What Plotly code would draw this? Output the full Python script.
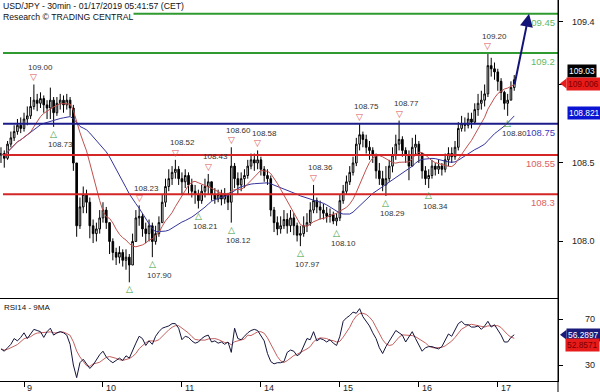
import plotly.graph_objects as go
import pandas as pd

# ---------------- data (hourly bars) ----------------
day_ticks = [7, 31, 55, 79, 103, 127, 151]
day_labels = ["9", "10", "11", "14", "15", "16", "17"]

first_open = 108.55
close = [108.56, 108.53, 108.62, 108.66, 108.70, 108.74, 108.72, 108.78, 108.80, 108.86,
         108.90, 108.88, 108.91, 108.87, 108.85, 108.90, 108.82, 108.88, 108.90, 108.87,
         108.90, 108.85, 108.50, 108.10, 108.22, 108.30, 108.25, 108.10, 108.05, 108.08,
         108.15, 108.20, 108.12, 108.00, 107.93, 107.90, 107.93, 107.88, 107.90, 107.85,
         108.00, 108.15, 108.16, 108.08, 108.05, 108.10, 108.00, 108.05, 108.12, 108.25,
         108.35, 108.40, 108.44, 108.46, 108.40, 108.38, 108.42, 108.36, 108.32, 108.30,
         108.26, 108.32, 108.35, 108.38, 108.30, 108.27, 108.30, 108.27, 108.30, 108.25,
         108.48, 108.40, 108.36, 108.40, 108.42, 108.48, 108.52, 108.50, 108.52, 108.46,
         108.42, 108.40, 108.20, 108.12, 108.08, 108.10, 108.14, 108.10, 108.15, 108.10,
         108.04, 108.05, 108.10, 108.12, 108.20, 108.26, 108.22, 108.20, 108.18, 108.16,
         108.17, 108.13, 108.15, 108.26, 108.32, 108.38, 108.44, 108.50, 108.62, 108.68,
         108.65, 108.60, 108.58, 108.55, 108.45, 108.40, 108.36, 108.40, 108.48, 108.55,
         108.62, 108.65, 108.58, 108.55, 108.48, 108.60, 108.62, 108.56, 108.45, 108.40,
         108.42, 108.48, 108.46, 108.48, 108.46, 108.52, 108.56, 108.54, 108.60, 108.72,
         108.75, 108.74, 108.78, 108.76, 108.84, 108.88, 108.90, 108.94, 109.12, 109.10,
         109.08, 109.02, 108.95, 108.88, 108.90, 108.98, 109.03]
high = [108.60, 108.58, 108.64, 108.70, 108.74, 108.78, 108.79, 108.82, 108.86, 108.92,
        109.00, 108.94, 108.95, 108.93, 108.90, 108.98, 108.92, 108.92, 108.94, 108.93,
        108.94, 108.92, 108.87, 108.50, 108.28, 108.35, 108.33, 108.28, 108.14, 108.12,
        108.20, 108.25, 108.22, 108.12, 108.02, 107.96, 107.97, 107.95, 107.95, 107.92,
        108.05, 108.20, 108.23, 108.18, 108.12, 108.14, 108.12, 108.10, 108.16, 108.30,
        108.40, 108.46, 108.48, 108.52, 108.48, 108.44, 108.46, 108.44, 108.40, 108.36,
        108.33, 108.36, 108.40, 108.43, 108.38, 108.34, 108.33, 108.33, 108.34, 108.31,
        108.60, 108.50, 108.44, 108.44, 108.46, 108.52, 108.56, 108.56, 108.58, 108.54,
        108.48, 108.46, 108.42, 108.22, 108.16, 108.16, 108.20, 108.18, 108.20, 108.18,
        108.12, 108.10, 108.16, 108.18, 108.25, 108.36, 108.28, 108.26, 108.24, 108.22,
        108.21, 108.19, 108.18, 108.30, 108.36, 108.42, 108.48, 108.54, 108.66, 108.75,
        108.70, 108.68, 108.64, 108.60, 108.56, 108.50, 108.45, 108.48, 108.52, 108.60,
        108.68, 108.77, 108.67, 108.60, 108.58, 108.66, 108.68, 108.64, 108.56, 108.48,
        108.46, 108.52, 108.50, 108.52, 108.50, 108.56, 108.60, 108.60, 108.64, 108.76,
        108.80, 108.79, 108.82, 108.82, 108.88, 108.94, 108.96, 109.00, 109.20, 109.17,
        109.14, 109.10, 109.04, 108.96, 108.94, 109.02, 109.06]
low = [108.50, 108.47, 108.52, 108.60, 108.64, 108.68, 108.69, 108.70, 108.74, 108.78,
       108.84, 108.83, 108.85, 108.82, 108.78, 108.78, 108.73, 108.80, 108.84, 108.82,
       108.84, 108.80, 108.45, 108.03, 108.08, 108.18, 108.18, 108.02, 107.99, 108.00,
       108.05, 108.12, 108.08, 107.92, 107.88, 107.85, 107.86, 107.84, 107.82, 107.74,
       107.85, 108.00, 108.10, 108.03, 107.99, 108.00, 107.90, 107.98, 108.03, 108.12,
       108.22, 108.32, 108.36, 108.40, 108.36, 108.30, 108.34, 108.30, 108.28, 108.24,
       108.21, 108.24, 108.28, 108.30, 108.26, 108.24, 108.25, 108.23, 108.24, 108.20,
       108.12, 108.34, 108.30, 108.32, 108.34, 108.40, 108.46, 108.45, 108.46, 108.42,
       108.38, 108.36, 108.16, 108.06, 108.04, 108.05, 108.08, 108.05, 108.06, 108.04,
       108.00, 107.97, 108.03, 108.06, 108.10, 108.18, 108.18, 108.14, 108.14, 108.12,
       108.12, 108.11, 108.10, 108.13, 108.24, 108.30, 108.36, 108.42, 108.48, 108.58,
       108.60, 108.56, 108.52, 108.50, 108.40, 108.36, 108.32, 108.29, 108.38, 108.44,
       108.52, 108.58, 108.54, 108.50, 108.39, 108.48, 108.55, 108.50, 108.40, 108.36,
       108.34, 108.40, 108.42, 108.43, 108.42, 108.44, 108.48, 108.50, 108.52, 108.58,
       108.70, 108.70, 108.72, 108.72, 108.75, 108.80, 108.84, 108.86, 108.92, 109.05,
       109.03, 108.96, 108.90, 108.84, 108.80, 108.90, 108.96]
rsi = [44, 42, 45, 48, 53, 51, 54, 58, 53, 57,
       61, 60, 59, 54, 59, 62, 56, 58, 59, 58,
       56, 48, 30, 19, 32, 35, 31, 27, 30, 35,
       39, 42, 37, 34, 32, 34, 36, 34, 38, 36,
       43, 49, 55, 53, 47, 51, 48, 55, 59, 62,
       63, 64, 66, 66, 62, 52, 55, 54, 51, 49,
       50, 53, 55, 56, 50, 51, 49, 50, 48, 50,
       41, 62, 53, 52, 55, 58, 60, 61, 60, 56,
       51, 40, 33, 31, 32, 32, 33, 41, 43, 42,
       38, 40, 47, 53, 52, 59, 51, 53, 52, 50,
       52, 49, 47, 55, 68, 71, 73, 76, 75, 79,
       72, 68, 64, 58, 53, 45, 40, 46, 51, 56,
       60, 58, 56, 50, 55, 59, 53, 47, 42, 45,
       46, 46, 45, 44, 46, 52, 57, 55, 60, 66,
       68, 65, 65, 63, 63, 64, 61, 64, 68, 63,
       65, 61, 56, 50, 50, 54, 56.29]

pivot_idx = [10, 16, 39, 42, 46, 53, 60, 63, 70, 70, 78, 91, 95, 102, 109, 117, 121, 130, 148, 154]
pivot_price = [109.00, 108.73, 107.74, 108.23, 107.90, 108.52, 108.21, 108.43, 108.12, 108.60,
               108.58, 107.97, 108.36, 108.10, 108.75, 108.29, 108.77, 108.34, 109.20, 108.80]
pivot_kind = ["H", "L", "L", "H", "L", "H", "L", "H", "L", "H",
              "H", "L", "H", "L", "H", "L", "H", "L", "H", "L"]
pivot_label_shown = [True, True, False, True, True, True, True, True, True, True,
                     True, True, True, True, True, True, True, True, True, True]

level_prices = [109.45, 109.2, 108.75, 108.55, 108.3]
level_labels = ["109.45", "109.2", "108.75", "108.55", "108.3"]
level_kind = ["res", "res", "pivot", "sup", "sup"]

price_ticks = [108.0, 108.5, 109.0, 109.4]
price_ticktext = ["108.0", "108.5", "109.0", "109.4"]
rsi_ticks = [30, 70]
rsi_ticktext = ["30", "70"]

target_start = (156, 108.99)
target_end = (160.5, 109.45)

last_close_tag = "109.03"
last_close_val = 109.03
red_tag = "109.006"
red_tag_val = 109.006
blue_tag = "108.821"
blue_tag_val = 108.821
rsi_tag = "56.2897"
rsi_tag_val = 56.2897
rsi_ma_tag = "52.8571"
rsi_ma_tag_val = 52.8571

title1 = "USD/JPY - 30min - 01/17/2019 05:41:57 (CET)"
title2 = "Research \u00a9 TRADING CENTRAL"
rsi_title = "RSI14 - 9MA"

# ---------------- derived ----------------
W, H = 600, 392
PR = 558.0  # plot right edge in px
n = len(close)
xi = list(range(n))
opens = [first_open] + close[:-1]
hi = [max(h, o, c) for h, o, c in zip(high, opens, close)]
lo = [min(l, o, c) for l, o, c in zip(low, opens, close)]
ma_fast = pd.Series(close).rolling(10, min_periods=1).mean()
ma_slow = pd.Series(close).rolling(25, min_periods=1).mean()
rsi_ma = pd.Series(rsi).rolling(5, min_periods=1).mean()

PPU = 157.0
p_top = 109.538
p_bot = p_top - 299 / PPU
r_hi, r_lo = 87.4, 16.1


def py(px):
    return 1 - px / H


def pxx(px):
    return px / PR


FONT = "Liberation Sans, Arial, sans-serif"
TAGF = 8.4

fig = go.Figure()
fig.add_trace(go.Candlestick(
    x=xi, open=opens, high=hi, low=lo, close=close,
    increasing=dict(line=dict(color="black", width=1), fillcolor="white"),
    decreasing=dict(line=dict(color="black", width=1), fillcolor="black"),
    whiskerwidth=0, hoverinfo="skip", showlegend=False, xaxis="x", yaxis="y"))
fig.add_trace(go.Scatter(x=xi, y=ma_slow, mode="lines", line=dict(color="#34349c", width=1),
                         hoverinfo="skip", showlegend=False, xaxis="x", yaxis="y"))
fig.add_trace(go.Scatter(x=xi, y=ma_fast, mode="lines", line=dict(color="#c0504d", width=1),
                         hoverinfo="skip", showlegend=False, xaxis="x", yaxis="y"))
fig.add_trace(go.Scatter(x=xi, y=rsi_ma, mode="lines", line=dict(color="#c46060", width=1),
                         hoverinfo="skip", showlegend=False, xaxis="x2", yaxis="y2"))
fig.add_trace(go.Scatter(x=xi, y=rsi, mode="lines", line=dict(color="#14143c", width=1),
                         hoverinfo="skip", showlegend=False, xaxis="x2", yaxis="y2"))

xr = [-0.3, 169.3]
shapes = []
annotations = []

line_col = {"res": "#2f9a2f", "pivot": "#1c1c8a", "sup": "#d42626"}
text_col = {"res": "#62b862", "pivot": "#3a3ac0", "sup": "#e06060"}
for p, lab, k in zip(level_prices, level_labels, level_kind):
    shapes.append(dict(type="line", xref="paper", yref="y", x0=pxx(3), x1=1, y0=p, y1=p,
                       line=dict(color=line_col[k], width=2), layer="above"))
    annotations.append(dict(xref="paper", yref="y", x=1, y=p, xanchor="right", yanchor="top",
                            xshift=-1, yshift=-1, text=lab, showarrow=False,
                            font=dict(family=FONT, size=9.5, color=text_col[k])))

# border on the right, full height
shapes.append(dict(type="line", xref="paper", yref="paper", x0=1, x1=1, y0=0, y1=1,
                   line=dict(color="black", width=1)))

# pivots
for i, p, k, show in zip(pivot_idx, pivot_price, pivot_kind, pivot_label_shown):
    if k == "H":
        annotations.append(dict(x=i, y=p, xref="x", yref="y", text="\u25bd", showarrow=False,
                                yshift=7, font=dict(family="DejaVu Sans", size=9, color="#d9534f")))
        if show:
            annotations.append(dict(x=i, y=p, xref="x", yref="y", text=f"{p:.2f}", showarrow=False,
                                    yshift=17, xshift=7, font=dict(family=FONT, size=8, color="#333333")))
    else:
        annotations.append(dict(x=i, y=p, xref="x", yref="y", text="\u25b3", showarrow=False,
                                yshift=-7, font=dict(family="DejaVu Sans", size=9, color="#3a9a3a")))
        if show:
            annotations.append(dict(x=i, y=p, xref="x", yref="y", text=f"{p:.2f}", showarrow=False,
                                    yshift=-18, xshift=7, font=dict(family=FONT, size=8, color="#333333")))

# target arrow
annotations.append(dict(x=target_end[0], y=target_end[1], ax=target_start[0], ay=target_start[1],
                        xref="x", yref="y", axref="x", ayref="y", text="", showarrow=True,
                        arrowhead=2, arrowsize=1.3, arrowwidth=2, arrowcolor="#141478"))

# axis labels (right aligned)
for v, t in zip(price_ticks, price_ticktext):
    annotations.append(dict(xref="paper", yref="y", x=pxx(597), y=v, xanchor="right", text=t,
                            showarrow=False, font=dict(family=FONT, size=9, color="#222222")))
for v, t in zip(rsi_ticks, rsi_ticktext):
    annotations.append(dict(xref="paper", yref="y2", x=pxx(597), y=v, xanchor="right", text=t,
                            showarrow=False, font=dict(family=FONT, size=9, color="#222222")))
for v, t in zip(day_ticks, day_labels):
    annotations.append(dict(xref="x2", yref="paper", x=v, y=py(381), xanchor="left", yanchor="top",
                            xshift=1, text=t, showarrow=False,
                            font=dict(family=FONT, size=9, color="#222222")))

# price tags
annotations.append(dict(xref="paper", yref="y", x=pxx(567), y=last_close_val, xanchor="left",
                        yshift=9, text=last_close_tag, showarrow=False, bgcolor="black", borderpad=1,
                        font=dict(family=FONT, size=TAGF, color="white")))
annotations.append(dict(xref="paper", yref="y", x=pxx(566), y=red_tag_val, xanchor="left",
                        text=red_tag, showarrow=False, bgcolor="#e81b1b", borderpad=1,
                        font=dict(family=FONT, size=TAGF, color="#7a0000")))
dy = 5 / PPU
shapes.append(dict(type="path", xref="paper", yref="y",
                   path=f"M {pxx(560)},{red_tag_val} L {pxx(566.5)},{red_tag_val + dy} L {pxx(566.5)},{red_tag_val - dy} Z",
                   fillcolor="#e81b1b", line=dict(width=0)))
annotations.append(dict(xref="paper", yref="y", x=pxx(567), y=blue_tag_val, xanchor="left",
                        text=blue_tag, showarrow=False, bgcolor="#0a14d2", borderpad=1,
                        font=dict(family=FONT, size=TAGF, color="white")))

# rsi tags
annotations.append(dict(xref="paper", yref="y2", x=pxx(566), y=rsi_tag_val, xanchor="left",
                        text=rsi_tag, showarrow=False, bgcolor="#1a1a7a", borderpad=1,
                        font=dict(family=FONT, size=TAGF, color="white")))
dr = 5 / 1.15
shapes.append(dict(type="path", xref="paper", yref="y2",
                   path=f"M {pxx(560)},{rsi_tag_val} L {pxx(566.5)},{rsi_tag_val + dr} L {pxx(566.5)},{rsi_tag_val - dr} Z",
                   fillcolor="#1a1a7a", line=dict(width=0)))
annotations.append(dict(xref="paper", yref="y2", x=pxx(565), y=rsi_ma_tag_val, xanchor="left",
                        yshift=-6, text=rsi_ma_tag, showarrow=False, bgcolor="#e81b1b", borderpad=1,
                        font=dict(family=FONT, size=TAGF, color="#7a0000")))

# titles
annotations.append(dict(xref="paper", yref="paper", x=pxx(2), y=1, xanchor="left", yanchor="top",
                        text=title1, showarrow=False, bgcolor="white", borderpad=0,
                        font=dict(family=FONT, size=8.7, color="#111111")))
annotations.append(dict(xref="paper", yref="paper", x=pxx(2), y=py(11), xanchor="left", yanchor="top",
                        text=title2, showarrow=False, bgcolor="white", borderpad=0,
                        font=dict(family=FONT, size=8.7, color="#111111")))
annotations.append(dict(xref="paper", yref="paper", x=pxx(2), y=py(301), xanchor="left", yanchor="top",
                        text=rsi_title, showarrow=False,
                        font=dict(family=FONT, size=8, color="#111111")))

fig.update_layout(
    width=W, height=H, margin=dict(l=0, r=W - PR, t=0, b=0),
    paper_bgcolor="white", plot_bgcolor="white", showlegend=False,
    xaxis=dict(domain=[0, 1], range=xr, anchor="y", showticklabels=False, showline=False,
               showgrid=False, zeroline=False, ticks="", rangeslider=dict(visible=False)),
    xaxis2=dict(domain=[0, 1], range=xr, anchor="y2", showline=True, mirror=True, linecolor="black",
                linewidth=1, tickmode="array", tickvals=day_ticks, ticks="outside", ticklen=5,
                tickcolor="black", showticklabels=False, showgrid=False, zeroline=False),
    yaxis=dict(domain=[py(299), 1], range=[p_bot, p_top], side="right", anchor="x", showline=True,
               linecolor="black", linewidth=1, tickmode="array", tickvals=price_ticks, ticks="outside",
               ticklen=4, tickcolor="black", showticklabels=False, showgrid=False, zeroline=False),
    yaxis2=dict(domain=[py(381), py(299)], range=[r_lo, r_hi], side="right", anchor="x2", showline=True,
                linecolor="black", linewidth=1, tickmode="array", tickvals=rsi_ticks, ticks="outside",
                ticklen=4, tickcolor="black", showticklabels=False, showgrid=False, zeroline=False),
    shapes=shapes, annotations=annotations,
)

fig.write_html("out.html")
